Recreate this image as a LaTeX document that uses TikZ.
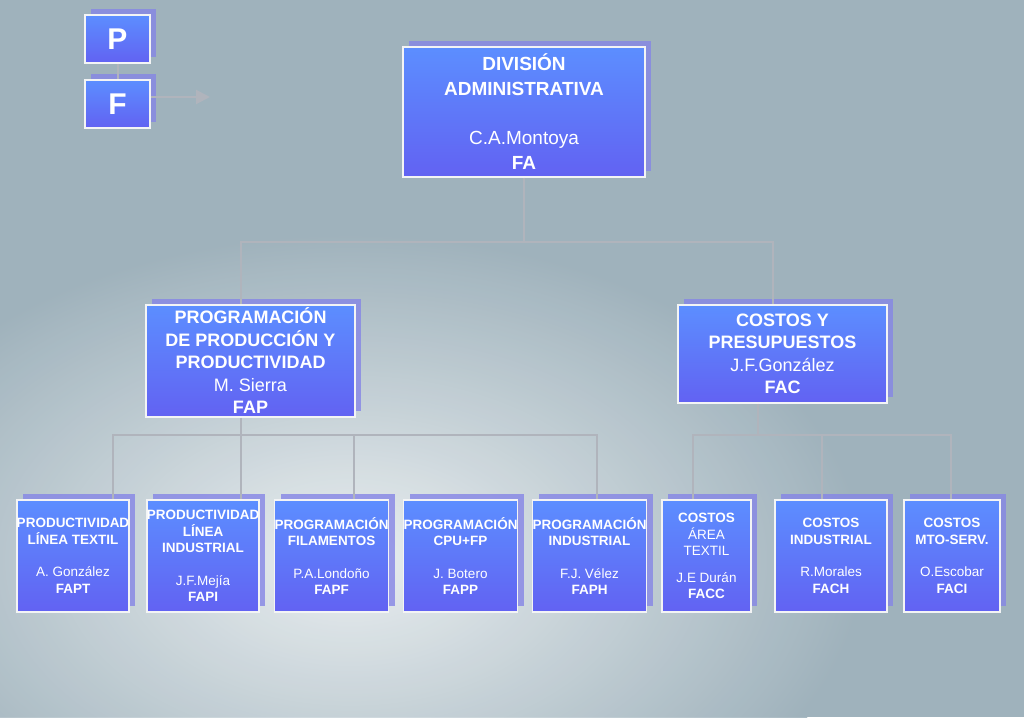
\documentclass[tikz,border=0pt]{standalone}
\usepackage{fontspec}
\setmainfont{Liberation Sans}
\usetikzlibrary{shadows,arrows.meta}
\definecolor{bgdark}{HTML}{9FB2BC}
\definecolor{bglight}{HTML}{F2F5F6}
\definecolor{boxtop}{HTML}{5C8EFF}
\definecolor{boxbot}{HTML}{6262F2}
\definecolor{boxshade}{HTML}{8585E6}
\definecolor{lnk}{HTML}{B0B4BC}
\tikzset{
  unit/.style={draw=white!85!lnk, line width=1.6pt, top color=boxtop, bottom color=boxbot,
    text=white, align=center, inner sep=0pt, font=\fontsize{19}{25}\selectfont,
    copy shadow={shadow xshift=6pt, shadow yshift=6pt, fill=boxshade, draw=none, opacity=0.8}},
  small/.style={unit, font=\fontsize{13.5}{16.5}\selectfont},
  link/.style={draw=lnk, line width=2pt}
}
\begin{document}
\begin{tikzpicture}[x=1pt,y=-1pt]
\useasboundingbox (0,0) rectangle (1024,717);
\fill[bgdark] (0,0) rectangle (1024,717);
\shade[inner color=bglight, outer color=bgdark, opacity=0.9] (350,560) ellipse (520 and 330);
% legend
\node[unit, minimum width=65pt, minimum height=48pt, font=\fontsize{30}{30}\selectfont\bfseries] (p) at (117.5,39) {P};
\node[unit, minimum width=65pt, minimum height=48pt, font=\fontsize{30}{30}\selectfont\bfseries] (f) at (117.5,104) {F};
\coordinate (farrow) at (210,97);
\draw[link] (p) -- (f);
\draw[link, -{Triangle[length=14pt,width=14pt]}] (f.east |- farrow) -- (farrow);
% head
\node[unit, minimum width=242pt, minimum height=130pt] (fa) at (524,112)
  {\textbf{DIVISIÓN}\\\textbf{ADMINISTRATIVA}\\[24pt]C.A.Montoya\\\textbf{FA}};
\node[unit, minimum width=209pt, minimum height=112pt, font=\fontsize{18}{22.5}\selectfont] (fap) at (250.5,361)
  {\textbf{PROGRAMACIÓN}\\\textbf{DE PRODUCCIÓN Y}\\\textbf{PRODUCTIVIDAD}\\M. Sierra\\\textbf{FAP}};
\node[unit, minimum width=209pt, minimum height=98pt, font=\fontsize{18}{22.5}\selectfont] (fac) at (782.5,354)
  {\textbf{COSTOS Y}\\\textbf{PRESUPUESTOS}\\J.F.González\\\textbf{FAC}};
% units
\node[small, minimum width=112pt, minimum height=112pt] (fapt) at (73,556)
  {\textbf{PRODUCTIVIDAD}\\\textbf{LÍNEA TEXTIL}\\[16pt]A. González\\\textbf{FAPT}};
\node[small, minimum width=112pt, minimum height=112pt] (fapi) at (203,556)
  {\textbf{PRODUCTIVIDAD}\\\textbf{LÍNEA}\\\textbf{INDUSTRIAL}\\[16pt]J.F.Mejía\\\textbf{FAPI}};
\node[small, minimum width=111pt, minimum height=112pt] (fapf) at (331.5,556)
  {\textbf{PROGRAMACIÓN}\\\textbf{FILAMENTOS}\\[16pt]P.A.Londoño\\\textbf{FAPF}};
\node[small, minimum width=111pt, minimum height=112pt] (fapp) at (460.5,556)
  {\textbf{PROGRAMACIÓN}\\\textbf{CPU+FP}\\[16pt]J. Botero\\\textbf{FAPP}};
\node[small, minimum width=111pt, minimum height=112pt] (faph) at (589.5,556)
  {\textbf{PROGRAMACIÓN}\\\textbf{INDUSTRIAL}\\[16pt]F.J. Vélez\\\textbf{FAPH}};
\node[small, minimum width=89pt, minimum height=112pt] (facc) at (706.5,556)
  {\textbf{COSTOS}\\ÁREA\\TEXTIL\\[10pt]J.E Durán\\\textbf{FACC}};
\node[small, minimum width=112pt, minimum height=112pt] (fach) at (831,556)
  {\textbf{COSTOS}\\\textbf{INDUSTRIAL}\\[16pt]R.Morales\\\textbf{FACH}};
\node[small, minimum width=96pt, minimum height=112pt] (faci) at (952,556)
  {\textbf{COSTOS}\\\textbf{MTO-SERV.}\\[16pt]O.Escobar\\\textbf{FACI}};
% connectors
\draw[link] (fa.south) -- ++(0,64) -| (241,0 |- fap.north);
\draw[link] (fa.south) ++(0,64) -| (773,0 |- fac.north);
\draw[link] (241,0 |- fap.south) -- (241,0 |- fapi.north);
\draw[link] (113,0 |- fapt.north) |- (597,435) -- (597,0 |- faph.north);
\draw[link] (354,0 |- fapf.north) -- (354,435);
\draw[link] (758,0 |- fac.south) -- (758,435);
\draw[link] (693,0 |- facc.north) |- (951,435) -- (951,0 |- faci.north);
\draw[link] (822,0 |- fach.north) -- (822,435);
\end{tikzpicture}
\end{document}
